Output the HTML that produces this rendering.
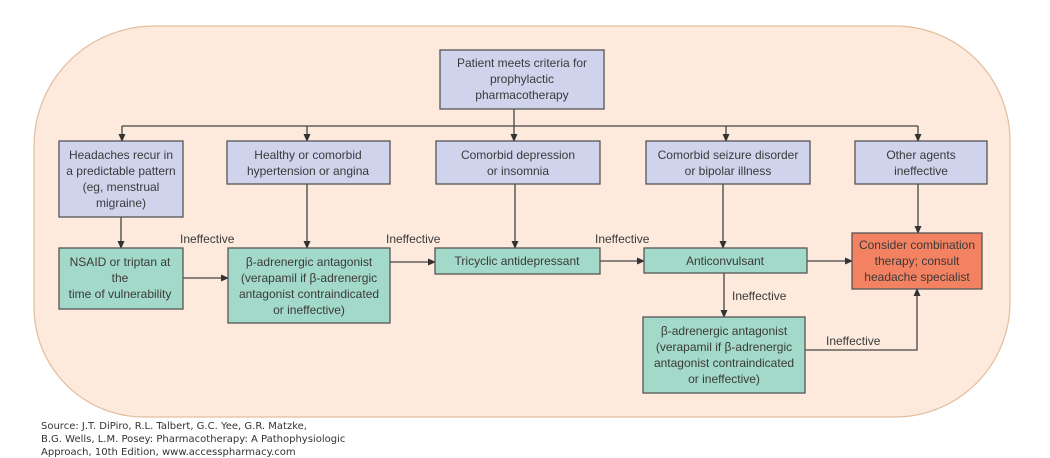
<!DOCTYPE html>
<html><head><meta charset="utf-8"><style>
html,body{margin:0;padding:0;background:#fff;}
svg{display:block}
text{font-family:"Liberation Sans",sans-serif;font-size:12px;fill:#3a3a3a;}
.s{font-family:"DejaVu Sans",sans-serif;font-size:10px;fill:#333;}
.p{fill:#cfd3ec;stroke:#555;stroke-width:1.3}
.g{fill:#a3d9c9;stroke:#555;stroke-width:1.3}
.o{fill:#f28262;stroke:#555;stroke-width:1.3}
.l{stroke:#444;stroke-width:1.3;fill:none}
</style></head><body>
<svg width="1050" height="458" viewBox="0 0 1050 458" xmlns="http://www.w3.org/2000/svg">
<defs><marker id="a" markerWidth="8" markerHeight="8" refX="7" refY="4" orient="auto" markerUnits="userSpaceOnUse"><path d="M0,0.5 L8,4 L0,7.5 z" fill="#333"/></marker></defs>
<path d="M152,26 H895 A115,115 0 0 1 1010,141 V302 A115,115 0 0 1 895,417 H144 A110,110 0 0 1 34,307 V146 A120,120 0 0 1 154,26 Z" fill="#fdeadc" stroke="#e2bd9e" stroke-width="1.2"/>

<!-- connectors -->
<line class="l" x1="514" y1="109" x2="514" y2="126"/>
<line class="l" x1="122" y1="126" x2="918" y2="126"/>
<line class="l" x1="122" y1="126" x2="122" y2="141" marker-end="url(#a)"/>
<line class="l" x1="307" y1="126" x2="307" y2="141" marker-end="url(#a)"/>
<line class="l" x1="514" y1="126" x2="514" y2="141" marker-end="url(#a)"/>
<line class="l" x1="726" y1="126" x2="726" y2="141" marker-end="url(#a)"/>
<line class="l" x1="918" y1="126" x2="918" y2="141" marker-end="url(#a)"/>

<line class="l" x1="121" y1="217" x2="121" y2="248" marker-end="url(#a)"/>
<line class="l" x1="307" y1="184" x2="307" y2="248" marker-end="url(#a)"/>
<line class="l" x1="515" y1="184" x2="515" y2="248" marker-end="url(#a)"/>
<line class="l" x1="723" y1="184" x2="723" y2="248" marker-end="url(#a)"/>
<line class="l" x1="918" y1="184" x2="918" y2="233" marker-end="url(#a)"/>

<line class="l" x1="183" y1="278" x2="228" y2="278" marker-end="url(#a)"/>
<line class="l" x1="390" y1="262" x2="435" y2="262" marker-end="url(#a)"/>
<line class="l" x1="600" y1="261" x2="644" y2="261" marker-end="url(#a)"/>
<line class="l" x1="807" y1="261" x2="852" y2="261" marker-end="url(#a)"/>
<line class="l" x1="724" y1="273" x2="724" y2="317" marker-end="url(#a)"/>
<polyline class="l" points="805,350 917,350 917,289" marker-end="url(#a)"/>

<text x="180" y="243">Ineffective</text>
<text x="386" y="243">Ineffective</text>
<text x="595" y="243">Ineffective</text>
<text x="732" y="300">Ineffective</text>
<text x="826" y="345">Ineffective</text>

<!-- boxes -->
<rect class="p" x="440" y="50" width="164" height="59"/>
<text text-anchor="middle" x="522" y="67">Patient meets criteria for</text>
<text text-anchor="middle" x="522" y="83">prophylactic</text>
<text text-anchor="middle" x="522" y="99">pharmacotherapy</text>

<rect class="p" x="59" y="141" width="124" height="76"/>
<text text-anchor="middle" x="121" y="159">Headaches recur in</text>
<text text-anchor="middle" x="121" y="175">a predictable pattern</text>
<text text-anchor="middle" x="121" y="191">(eg, menstrual</text>
<text text-anchor="middle" x="121" y="207">migraine)</text>

<rect class="p" x="227" y="141" width="163" height="43"/>
<text text-anchor="middle" x="308" y="159">Healthy or comorbid</text>
<text text-anchor="middle" x="308" y="175">hypertension or angina</text>

<rect class="p" x="436" y="141" width="164" height="43"/>
<text text-anchor="middle" x="518" y="159">Comorbid depression</text>
<text text-anchor="middle" x="518" y="175">or insomnia</text>

<rect class="p" x="646" y="141" width="164" height="43"/>
<text text-anchor="middle" x="728" y="159">Comorbid seizure disorder</text>
<text text-anchor="middle" x="728" y="175">or bipolar illness</text>

<rect class="p" x="855" y="141" width="132" height="43"/>
<text text-anchor="middle" x="921" y="159">Other agents</text>
<text text-anchor="middle" x="921" y="175">ineffective</text>

<rect class="g" x="59" y="248" width="124" height="61"/>
<text text-anchor="middle" x="120" y="266">NSAID or triptan at</text>
<text text-anchor="middle" x="120" y="282">the</text>
<text text-anchor="middle" x="120" y="298">time of vulnerability</text>

<rect class="g" x="228" y="248" width="162" height="75"/>
<text text-anchor="middle" x="309" y="266">β-adrenergic antagonist</text>
<text text-anchor="middle" x="309" y="282">(verapamil if β-adrenergic</text>
<text text-anchor="middle" x="309" y="298">antagonist contraindicated</text>
<text text-anchor="middle" x="309" y="314">or ineffective)</text>

<rect class="g" x="435" y="248" width="165" height="26"/>
<text text-anchor="middle" x="517" y="265">Tricyclic antidepressant</text>

<rect class="g" x="644" y="248" width="163" height="25"/>
<text text-anchor="middle" x="725" y="265">Anticonvulsant</text>

<rect class="o" x="852" y="233" width="130" height="56"/>
<text text-anchor="middle" x="917" y="249">Consider combination</text>
<text text-anchor="middle" x="917" y="265">therapy; consult</text>
<text text-anchor="middle" x="917" y="281">headache specialist</text>

<rect class="g" x="643" y="317" width="162" height="76"/>
<text text-anchor="middle" x="724" y="335">β-adrenergic antagonist</text>
<text text-anchor="middle" x="724" y="351">(verapamil if β-adrenergic</text>
<text text-anchor="middle" x="724" y="367">antagonist contraindicated</text>
<text text-anchor="middle" x="724" y="383">or ineffective)</text>

<text class="s" x="41" y="429">Source: J.T. DiPiro, R.L. Talbert, G.C. Yee, G.R. Matzke,</text>
<text class="s" x="41" y="442">B.G. Wells, L.M. Posey: Pharmacotherapy: A Pathophysiologic</text>
<text class="s" x="41" y="455">Approach, 10th Edition, www.accesspharmacy.com</text>
</svg>
</body></html>
